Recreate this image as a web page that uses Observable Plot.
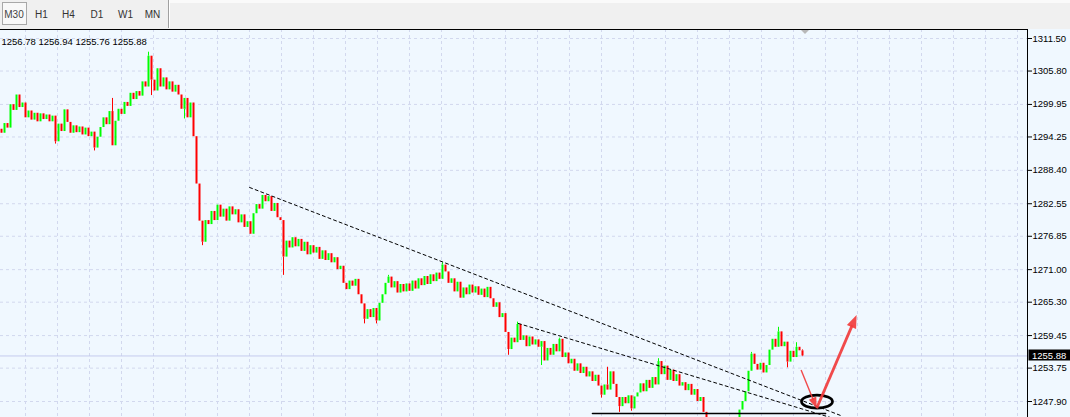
<!DOCTYPE html>
<html><head><meta charset="utf-8">
<script src="https://cdn.jsdelivr.net/npm/d3@7"></script>
<script src="https://cdn.jsdelivr.net/npm/@observablehq/plot@0.6"></script>
<style>
html,body{margin:0;padding:0;overflow:hidden;background:#f0f8ff;}
#wrap{position:relative;width:1070px;height:417px;overflow:hidden;}
#tb{position:absolute;left:0;top:0;width:1070px;height:29px;background:#f0f0f0;font-family:"Liberation Sans",Arial,sans-serif;font-size:10px;color:#333;}
#tb .btn{position:absolute;top:0;height:30px;line-height:30px;white-space:nowrap;transform:translateX(-50%);}
#tb .sel{position:absolute;left:2px;top:2px;width:23px;height:21px;border:1px solid #a8a8a8;background:#f8f8f8;}
#tb .sep{position:absolute;left:168px;top:0;width:1px;height:28px;background:#a0a0a0;border-right:1px solid #fff;}
#tb .strip{position:absolute;left:170px;top:0;width:900px;height:3px;background:#fafafa;}
#chart{position:absolute;left:0;top:29px;}
</style></head><body>
<div id="wrap">
<div id="tb"><div class="strip"></div><div class="sel"></div><div class="sep"></div></div>
<div id="chart"></div>
</div>
<script>
// ---------- data ----------
const timeframes = ["M30", "H1", "H4", "D1", "W1", "MN"];
const yTicks = [1311.50, 1305.80, 1299.95, 1294.25, 1288.40, 1282.55, 1276.85, 1271.00, 1265.30, 1259.45, 1253.75, 1247.90];
const lastBarOHLC = [1256.78, 1256.94, 1255.76, 1255.88];
const firstOpen = 1295.6;
const closes = [
 1294.9,1296.6,1295.8,1299.9,1298.9,1301.6,1299.4,1300.2,1297.6,1298.8,
 1297.2,1298.4,1296.9,1298.3,1297.3,1298.1,1296.9,1297.9,1293.4,1296.5,
 1295.2,1299.0,1296.8,1294.9,1296.2,1295.0,1296.0,1294.6,1295.8,1294.3,
 1295.1,1292.3,1294.2,1295.9,1297.6,1296.4,1298.7,1292.7,1297.0,1299.1,
 1298.2,1300.3,1299.6,1301.9,1300.8,1302.2,1301.4,1303.9,1303.0,1308.4,
 1304.2,1302.3,1306.2,1303.0,1304.6,1302.5,1303.9,1302.1,1303.3,1301.6,
 1299.1,1301.0,1297.6,1300.2,1294.3,1286.0,1279.5,1275.8,1279.6,1278.9,
 1281.2,1279.6,1282.3,1280.2,1281.6,1279.5,1282.0,1280.6,1281.5,1279.2,
 1280.6,1278.4,1279.4,1277.2,1280.8,1282.4,1281.6,1284.0,1282.9,1283.8,
 1281.2,1282.6,1280.1,1279.6,1273.2,1276.0,1274.8,1276.6,1275.0,1276.3,
 1274.2,1275.8,1273.6,1275.2,1273.9,1274.9,1272.8,1274.3,1272.6,1273.8,
 1272.2,1273.1,1271.0,1271.6,1268.6,1267.5,1269.0,1268.1,1269.3,1266.6,
 1265.0,1262.3,1264.0,1262.6,1264.2,1262.0,1265.1,1266.6,1268.6,1269.7,
 1267.8,1268.9,1266.9,1268.4,1267.1,1268.5,1267.2,1269.0,1267.6,1269.4,
 1268.2,1269.8,1268.4,1270.1,1268.9,1270.4,1269.3,1271.8,1270.6,1268.6,
 1269.4,1267.1,1268.8,1266.0,1267.8,1266.6,1268.3,1266.9,1268.0,1266.5,
 1267.6,1266.1,1267.9,1265.9,1264.4,1265.2,1262.6,1263.3,1260.0,1257.0,
 1259.0,1258.2,1261.4,1258.6,1259.4,1257.5,1259.2,1257.8,1258.7,1257.4,
 1258.4,1255.0,1257.2,1256.0,1257.9,1256.6,1258.8,1255.6,1256.4,1254.5,
 1255.3,1253.2,1254.5,1252.8,1253.9,1252.2,1253.1,1251.4,1252.5,1250.6,
 1249.0,1250.8,1249.9,1253.1,1250.9,1248.6,1247.0,1248.6,1247.5,1248.9,
 1246.6,1248.7,1249.4,1251.0,1249.6,1251.6,1250.2,1252.1,1250.8,1254.9,
 1252.6,1254.1,1251.6,1253.4,1251.4,1252.6,1250.6,1251.2,1249.8,1250.9,
 1249.0,1250.0,1247.9,1248.6,1246.0,1244.6,1243.7,1242.6,1243.4,1241.8,
 1242.6,1241.3,1242.7,1241.9,1243.3,1245.0,1246.4,1247.9,1249.6,1253.2,
 1256.2,1254.4,1253.4,1254.6,1252.9,1254.2,1256.9,1258.8,1257.4,1260.1,
 1257.5,1258.3,1254.8,1256.7,1255.6,1257.4,1256.78,1255.88
];
// visible wick extremes [bar index, price]
const wickHighs = [[37, 1301.0], [49, 1309.1], [129, 1270.0], [147, 1272.2], [172, 1261.8], [186, 1259.0],
  [202, 1253.9], [219, 1255.4], [250, 1256.5], [259, 1260.9], [265, 1258.2], [267, 1256.94]];
const wickLows = [[18, 1293.0], [31, 1291.8], [50, 1301.5], [61, 1297.4], [67, 1275.2], [94, 1270.0], [121, 1261.5],
  [125, 1261.5], [169, 1256.0], [180, 1254.2], [200, 1248.5], [206, 1246.0], [210, 1246.2], [262, 1253.8], [267, 1255.76]];
// drawn objects, anchored by (bar index, price)
const upperTrend = [{i: 82.7, p: 1285.4}, {i: 279.7, p: 1245.45}];
const lowerTrend = [{i: 172.3, p: 1261.57}, {i: 276.3, p: 1245.1}];
const supportLine = [{i: 197, p: 1245.8}, {i: 274.7, p: 1245.8}];
const ellipseCenter = {i: 272, p: 1247.8};
const arrowDown = [{i: 266.7, p: 1253.33}, {i: 271.9, p: 1246.62}];
const arrowUp = [{i: 271.9, p: 1246.62}, {i: 285.2, p: 1262.97}];

// ---------- layout / style ----------
const tbCenters = [14, 41.5, 68.5, 97, 125.5, 152.5];
const xMax = 342;
const gridColor = "#d2d8ee";
const arrowColor = "#f23c3c";
const bullColor = "#00ff00", bearColor = "#ff0000";

const tb = document.getElementById("tb");
timeframes.forEach((t, k) => {
  const d = document.createElement("div");
  d.className = "btn"; d.textContent = t; d.style.left = tbCenters[k] + "px";
  if (k === 0) d.style.color = "#444";
  tb.appendChild(d);
});

const bars = closes.map((c, i) => ({i, open: i === 0 ? firstOpen : closes[i - 1], close: c}));
const upBars = bars.filter(d => d.close >= d.open);
const downBars = bars.filter(d => d.close < d.open);
const wicks = [
  ...wickHighs.map(([i, p]) => {const b = bars[i]; return {i, y1: Math.max(b.open, b.close), y2: p, up: b.close >= b.open};}),
  ...wickLows.map(([i, p]) => {const b = bars[i]; return {i, y1: Math.min(b.open, b.close), y2: p, up: b.close >= b.open};})
];
const lastClose = closes[closes.length - 1];
const header = lastBarOHLC.map(v => v.toFixed(2)).join(" ");
const xGrid = d3.range(8, xMax, 32 / 3);

const chart = Plot.plot({
  width: 1070, height: 388,
  marginTop: 0, marginRight: 43, marginBottom: 0, marginLeft: 0,
  x: {domain: [0, xMax], range: [1, 1027], axis: null},
  y: {domain: [1247.9, 1311.5], range: [372, 9], axis: null},
  style: {background: "#f0f8ff", fontFamily: "'Liberation Sans', Arial, sans-serif", fontSize: "9.5px", color: "black", overflow: "hidden"},
  marks: [
    Plot.gridX(xGrid, {stroke: gridColor, strokeOpacity: 1, strokeDasharray: "3,3"}),
    Plot.gridY(yTicks, {stroke: gridColor, strokeOpacity: 1, strokeDasharray: "3,3"}),
    Plot.ruleY([lastClose], {stroke: "#c5cbee"}),
    Plot.ruleX(wicks.filter(d => d.up), {x: "i", y1: "y1", y2: "y2", stroke: bullColor, strokeWidth: 1, clip: "frame"}),
    Plot.ruleX(wicks.filter(d => !d.up), {x: "i", y1: "y1", y2: "y2", stroke: bearColor, strokeWidth: 1, clip: "frame"}),
    Plot.ruleX(upBars, {x: "i", y1: "open", y2: "close", stroke: bullColor, strokeWidth: 2, clip: "frame"}),
    Plot.ruleX(downBars, {x: "i", y1: "open", y2: "close", stroke: bearColor, strokeWidth: 2, clip: "frame"}),
    Plot.line(upperTrend, {x: "i", y: "p", stroke: "black", strokeWidth: 1, strokeDasharray: "3,3", clip: "frame"}),
    Plot.line(lowerTrend, {x: "i", y: "p", stroke: "black", strokeWidth: 1, strokeDasharray: "3,3", clip: "frame"}),
    Plot.line(supportLine, {x: "i", y: "p", stroke: "black", strokeWidth: 1.6, clip: "frame"}),
    Plot.axisY(yTicks, {anchor: "right", tickSize: 4, tickPadding: 1, tickFormat: d => d.toFixed(2), textAnchor: "start", fontSize: 9.5, fill: "black", stroke: "black"}),
    Plot.text([header], {frameAnchor: "top-left", dx: 1, dy: 9, textAnchor: "start", fontSize: 9.5, fill: "black"})
  ]
});
document.getElementById("chart").appendChild(chart);

// ---------- decorations placed through the plot's scales ----------
const sx = chart.scale("x"), sy = chart.scale("y");
const X = v => sx.apply(v), Y = v => sy.apply(v);
const svg = d3.select(chart);
const fx = Math.round(X(xMax)) + 0.5;
svg.append("line").attr("x1", 0).attr("x2", fx).attr("y1", 0.5).attr("y2", 0.5).attr("stroke", "black");
svg.append("line").attr("x1", fx).attr("x2", fx).attr("y1", 0).attr("y2", 388).attr("stroke", "black");

// chart-shift marker
const sm = X(closes.length);
svg.append("polygon").attr("points", `${sm - 4},1 ${sm + 4},1 ${sm},5`).attr("fill", "#b8b8b8");

// ellipse
svg.append("ellipse").attr("cx", X(ellipseCenter.i)).attr("cy", Y(ellipseCenter.p))
  .attr("rx", 15.5).attr("ry", 6.5).attr("fill", "none").attr("stroke", "black").attr("stroke-width", 2.7);

function drawArrow(pts, w, headLen, headW) {
  const x0 = X(pts[0].i), y0 = Y(pts[0].p), x1 = X(pts[1].i), y1 = Y(pts[1].p);
  const L = Math.hypot(x1 - x0, y1 - y0), ux = (x1 - x0) / L, uy = (y1 - y0) / L;
  const bx = x1 - ux * headLen, by = y1 - uy * headLen;
  svg.append("line").attr("x1", x0).attr("y1", y0).attr("x2", bx + ux * 2).attr("y2", by + uy * 2)
    .attr("stroke", arrowColor).attr("stroke-width", w).attr("opacity", 0.92);
  svg.append("polygon").attr("points",
    `${x1},${y1} ${bx - uy * headW / 2},${by + ux * headW / 2} ${bx + uy * headW / 2},${by - ux * headW / 2}`)
    .attr("fill", arrowColor).attr("opacity", 0.92);
}
drawArrow(arrowDown, 1.4, 11, 8);
drawArrow(arrowUp, 2.8, 13, 10);

// current price label
const ly = Y(lastClose);
svg.append("rect").attr("x", fx + 1).attr("y", Math.round(ly) - 5.5).attr("width", 42).attr("height", 11).attr("fill", "black");
svg.append("text").attr("x", fx + 4.5).attr("y", ly).attr("dy", "0.34em").attr("fill", "white")
  .attr("text-anchor", "start").attr("font-size", 9.5).text(lastClose.toFixed(2));
</script>
</body></html>
